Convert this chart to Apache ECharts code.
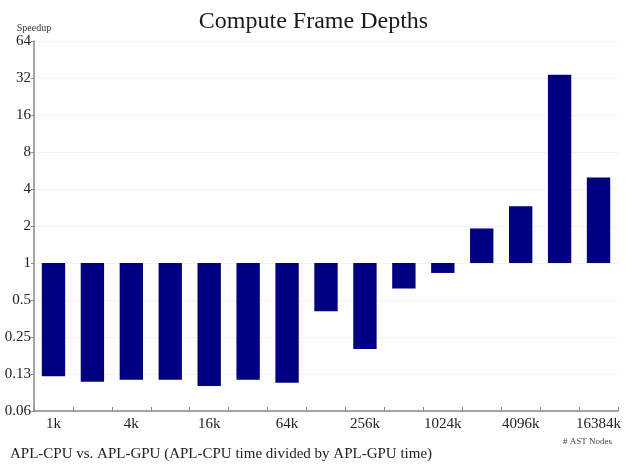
<!DOCTYPE html>
<html>
<head>
<meta charset="utf-8">
<script src="https://cdn.jsdelivr.net/npm/echarts@6/dist/echarts.min.js"></script>
<style>
  html, body { margin: 0; padding: 0; background: #fff; }
  #chart { width: 627px; height: 465px; }
</style>
</head>
<body>
<div id="chart"></div>
<script>
// AST size buckets (number of nodes)
const categories = ['1k', '2k', '4k', '8k', '16k', '32k', '64k', '128k', '256k',
  '512k', '1024k', '2048k', '4096k', '8192k', '16384k'];

// Speedup = APL-CPU time / APL-GPU time
const speedup = [0.12, 0.108, 0.112, 0.112, 0.1, 0.112, 0.106, 0.405, 0.2,
  0.62, 0.83, 1.91, 2.9, 34, 4.96];

// Tick labels on the log2 speedup axis, from 1/16 up to 64
const yTickLabels = ['0.06', '0.13', '0.25', '0.5', '1', '2', '4', '8', '16', '32', '64'];

const serif = '"Liberation Serif", "DejaVu Serif", serif';
const chart = echarts.init(document.getElementById('chart'));

chart.setOption({
  animation: false,
  backgroundColor: '#ffffff',
  title: [
    {
      text: 'Compute Frame Depths',
      left: 'center',
      top: 5,
      textStyle: { fontFamily: serif, fontSize: 24, fontWeight: 'normal', color: '#1a1a1a' }
    },
    {
      text: 'APL-CPU vs. APL-GPU (APL-CPU time divided by APL-GPU time)',
      left: 5,
      top: 442,
      textStyle: { fontFamily: serif, fontSize: 15, fontWeight: 'normal', color: '#222' }
    },
    {
      text: '# AST Nodes',
      right: 10,
      top: 432,
      textStyle: { fontFamily: serif, fontSize: 9, fontWeight: 'normal', color: '#444' }
    }
  ],
  grid: { left: 34, right: 9, top: 41, bottom: 54, containLabel: false },
  xAxis: {
    type: 'category',
    data: categories,
    boundaryGap: true,
    axisLine: { lineStyle: { color: '#888', width: 1.5 } },
    axisTick: { show: true, interval: 0, inside: true, length: 4, lineStyle: { color: '#888' } },
    axisLabel: {
      interval: 1,
      fontFamily: serif,
      fontSize: 15,
      color: '#222',
      margin: 6
    },
    splitLine: { show: false }
  },
  yAxis: {
    type: 'log',
    logBase: 2,
    min: 0.0625,
    max: 64,
    interval: 1,
    splitNumber: 10,
    name: 'Speedup',
    nameLocation: 'end',
    nameGap: 7,
    nameTextStyle: { fontFamily: serif, fontSize: 10, color: '#333', align: 'center' },
    axisLine: { show: true, lineStyle: { color: '#888', width: 1.5 } },
    axisTick: { show: true, length: 3, lineStyle: { color: '#888' } },
    axisLabel: {
      fontFamily: serif,
      fontSize: 15,
      color: '#222',
      margin: 3,
      formatter: function (v) {
        const idx = Math.round(Math.log2(v)) + 4;
        return yTickLabels[idx] !== undefined ? yTickLabels[idx] : '';
      }
    },
    splitLine: { show: true, lineStyle: { color: '#f2f2f2', width: 1 } }
  },
  series: [
    {
      type: 'bar',
      data: speedup,
      barWidth: '60%',
      itemStyle: { color: '#000080' }
    }
  ]
});
</script>
</body>
</html>
